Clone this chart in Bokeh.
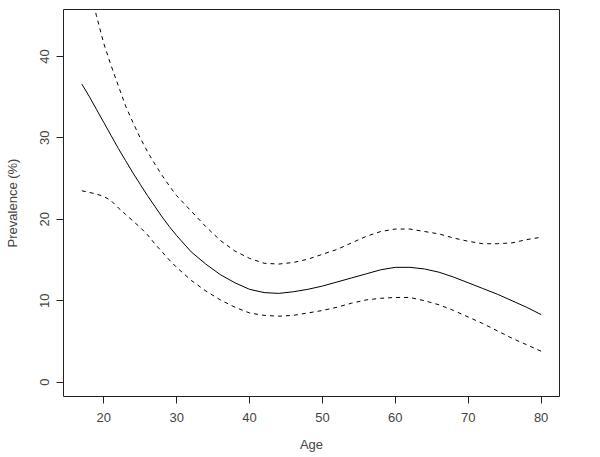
from bokeh.plotting import figure
from bokeh.models import Range1d, FixedTicker
from bokeh.embed import file_html
from bokeh.resources import INLINE

ages = [17, 18, 19, 20, 21, 22, 23, 24, 25, 26, 27, 28, 29, 30, 32, 34, 36, 38, 40,
        42, 44, 46, 48, 50, 52, 54, 56, 58, 60, 62, 64, 66, 68, 70, 72, 74, 76, 78, 80]
prevalence = [36.6, 35.1, 33.5, 31.9, 30.3, 28.7, 27.2, 25.7, 24.3, 22.9, 21.6, 20.3, 19.1,
              18.0, 16.0, 14.5, 13.2, 12.2, 11.4, 11.0, 10.9, 11.1, 11.4, 11.8, 12.3, 12.8,
              13.3, 13.8, 14.1, 14.1, 13.9, 13.5, 12.9, 12.2, 11.5, 10.8, 10.0, 9.2, 8.3]
upper = [52.0, 48.5, 45.0, 41.6, 38.9, 36.4, 33.9, 31.9, 30.0, 28.3, 26.8, 25.4, 24.1,
         22.9, 21.0, 19.1, 17.4, 16.1, 15.2, 14.6, 14.5, 14.7, 15.1, 15.7, 16.3, 17.1,
         17.9, 18.5, 18.8, 18.8, 18.5, 18.2, 17.7, 17.3, 17.0, 17.0, 17.1, 17.5, 17.8]
lower = [23.5, 23.3, 23.1, 22.8, 22.3, 21.4, 20.6, 19.8, 19.0, 18.1, 17.0, 16.0, 15.0,
         14.1, 12.5, 11.2, 10.1, 9.2, 8.5, 8.2, 8.1, 8.2, 8.5, 8.8, 9.2, 9.7,
         10.1, 10.3, 10.4, 10.4, 10.0, 9.5, 8.8, 8.0, 7.2, 6.3, 5.4, 4.6, 3.8]
x_ticks = [20, 30, 40, 50, 60, 70, 80]
y_ticks = [0, 10, 20, 30, 40]

FONT = "Liberation Sans"
TXT = "#444444"

p = figure(width=600, height=457, output_backend="svg", toolbar_location=None,
           x_range=Range1d(14.48, 82.52), y_range=Range1d(-1.76, 45.76),
           min_border_left=63, min_border_right=41, min_border_top=9, min_border_bottom=61)
p.background_fill_color = "white"
p.border_fill_color = "white"
p.outline_line_color = "#222222"
p.outline_line_width = 1
p.xgrid.grid_line_color = None
p.ygrid.grid_line_color = None

p.line(ages, prevalence, line_color="black", line_width=1)
p.line(ages, upper, line_color="black", line_width=1, line_dash="4 4")
p.line(ages, lower, line_color="black", line_width=1, line_dash="4 4")

for ax in (p.xaxis[0], p.yaxis[0]):
    ax.axis_line_color = None
    ax.major_tick_line_color = "#222222"
    ax.major_tick_out = 7
    ax.major_tick_in = 0
    ax.minor_tick_line_color = None
    ax.major_label_text_font = FONT
    ax.major_label_text_font_size = "13px"
    ax.major_label_text_color = TXT
    ax.axis_label_text_font = FONT
    ax.axis_label_text_font_size = "13px"
    ax.axis_label_text_font_style = "normal"
    ax.axis_label_text_color = TXT

p.xaxis.ticker = FixedTicker(ticks=x_ticks)
p.yaxis.ticker = FixedTicker(ticks=y_ticks)
p.xaxis.axis_label = "Age"
p.yaxis.axis_label = "Prevalence (%)"
p.xaxis.major_label_standoff = 9
p.xaxis.axis_label_standoff = 12
p.yaxis.major_label_standoff = 7
p.yaxis.major_label_orientation = "vertical"
p.yaxis.axis_label_standoff = 18

open("out.html", "w").write(file_html(p, INLINE))
